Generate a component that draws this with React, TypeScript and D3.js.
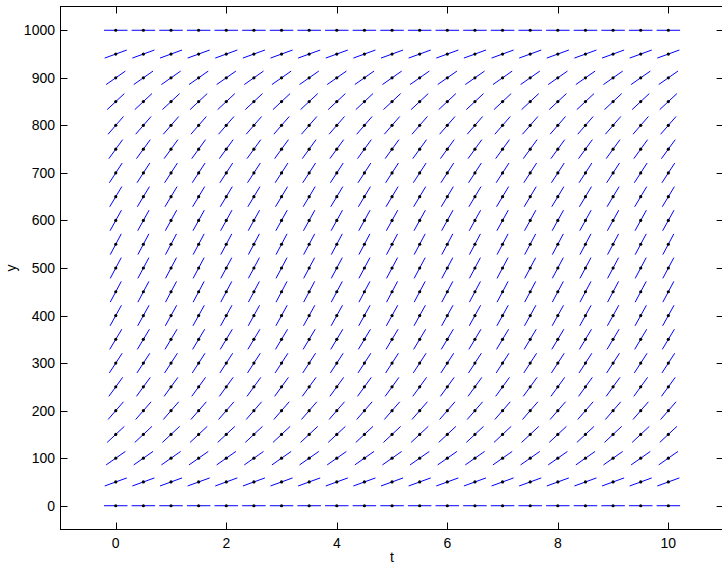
import React from "react";
import * as d3 from "d3";

// grid of sample points (t, y) and the slope angle read per y row (degrees, screen space)
const tGrid = [0, 0.5, 1, 1.5, 2, 2.5, 3, 3.5, 4, 4.5, 5, 5.5, 6, 6.5, 7, 7.5, 8, 8.5, 9, 9.5, 10];
const yGrid = [0, 50, 100, 150, 200, 250, 300, 350, 400, 450, 500, 550, 600, 650, 700, 750, 800, 850, 900, 950, 1000];
const rowAngles = [0, 20, 35, 43, 49, 54, 57, 59, 61, 62, 62, 62, 61, 59, 57, 54, 49, 43, 35, 20, 0];

const xTicks = [0, 2, 4, 6, 8, 10];
const yTicks = [0, 100, 200, 300, 400, 500, 600, 700, 800, 900, 1000];

const W = 722;
const H = 568;
const left = 60.5, right = 723.6, top = 6.5, bottom = 529.5;
const segLen = 23.5;
const tickLen = 7;
const font = "'Liberation Sans', Arial, sans-serif";

export default function App() {
  const x = d3.scaleLinear().domain([-1, 11]).range([left, right]);
  const y = d3.scaleLinear().domain([-50, 1050]).range([bottom, top]);

  const segs = [];
  yGrid.forEach((yv, i) => {
    const a = (rowAngles[i] * Math.PI) / 180;
    const dx = (Math.cos(a) * segLen) / 2;
    const dy = (Math.sin(a) * segLen) / 2;
    tGrid.forEach((tv, j) => {
      const cx = x(tv), cy = y(yv);
      segs.push({ key: `${i}-${j}`, cx, cy, dx, dy });
    });
  });

  return (
    <svg width={W} height={H} style={{ position: "absolute", left: 0, top: 0, background: "#fff" }}>
      <rect x={0} y={0} width={W} height={H} fill="#fff" />
      {segs.map(s => (
        <line key={"l" + s.key} x1={s.cx - s.dx} y1={s.cy + s.dy} x2={s.cx + s.dx} y2={s.cy - s.dy}
          stroke="#0000ff" strokeWidth={1} />
      ))}
      {segs.map(s => (
        <circle key={"c" + s.key} cx={s.cx} cy={s.cy} r={1.6} fill="#000" />
      ))}

      {/* box */}
      <rect x={left} y={top} width={right - left} height={bottom - top} fill="none" stroke="#000" strokeWidth={1} />

      {xTicks.map(t => (
        <g key={"xt" + t}>
          <line x1={Math.round(x(t)) + 0.5} x2={Math.round(x(t)) + 0.5} y1={bottom} y2={bottom - tickLen} stroke="#000" />
          <line x1={Math.round(x(t)) + 0.5} x2={Math.round(x(t)) + 0.5} y1={top} y2={top + tickLen} stroke="#000" />
          <text x={x(t)} y={548} textAnchor="middle" fontFamily={font} fontSize={14} fill="#000">{t}</text>
        </g>
      ))}
      {yTicks.map(v => (
        <g key={"yt" + v}>
          <line x1={left} x2={left + tickLen} y1={Math.round(y(v)) + 0.5} y2={Math.round(y(v)) + 0.5} stroke="#000" />
          <line x1={right} x2={right - tickLen} y1={Math.round(y(v)) + 0.5} y2={Math.round(y(v)) + 0.5} stroke="#000" />
          <text x={55} y={y(v) + 5} textAnchor="end" fontFamily={font} fontSize={14} fill="#000">{v}</text>
        </g>
      ))}

      <text x={392} y={562} textAnchor="middle" fontFamily={font} fontSize={14} fill="#000">t</text>
      <text transform={`translate(16, ${(top + bottom) / 2}) rotate(-90)`} textAnchor="middle"
        fontFamily={font} fontSize={14} fill="#000">y</text>
    </svg>
  );
}
